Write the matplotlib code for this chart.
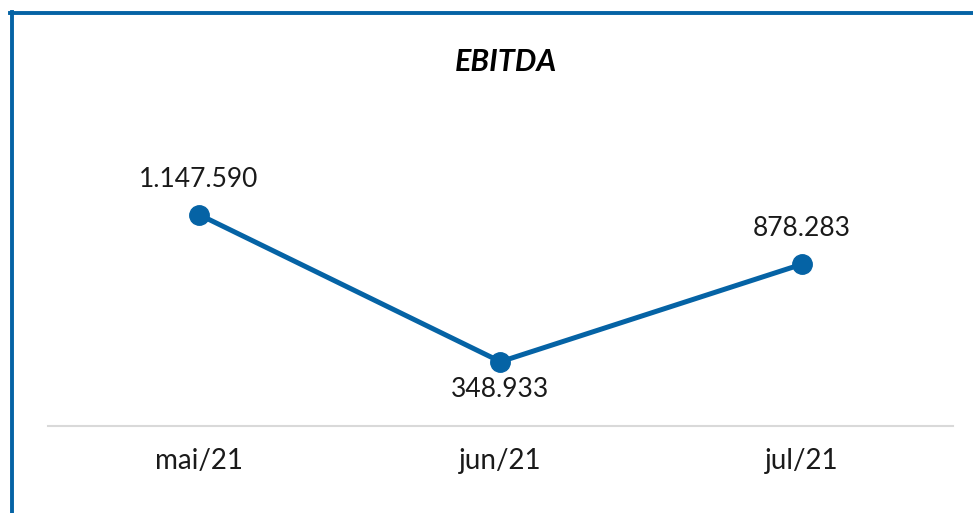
import matplotlib
matplotlib.use("Agg")
import matplotlib.pyplot as plt
from matplotlib.lines import Line2D

# data
months = ["mai/21", "jun/21", "jul/21"]
ebitda = [1147590, 348933, 878283]
labels = ["1.147.590", "348.933", "878.283"]
label_pos = ["above", "below", "above"]

blue = "#0563A5"
plt.rcParams["font.family"] = ["Lato", "DejaVu Sans"]

W, H = 973, 513
fig = plt.figure(figsize=(W / 100, H / 100), dpi=100)
ax = fig.add_axes([48 / W, 87 / H, 905 / W, 258 / H])

x = range(len(months))
ax.plot(x, ebitda, color=blue, lw=3.6, marker="o", ms=14, solid_capstyle="round")

for i, (v, lab, pos) in enumerate(zip(ebitda, labels, label_pos)):
    if pos == "above":
        ax.annotate(lab, (i, v), xytext=(0, 23), textcoords="offset pixels",
                    ha="center", va="bottom", fontsize=19, color="#1a1a1a")
    else:
        ax.annotate(lab, (i, v), xytext=(0, -15), textcoords="offset pixels",
                    ha="center", va="top", fontsize=19, color="#1a1a1a")

ax.set_xlim(-0.5, 2.5)
ax.set_ylim(0, 1400000)
ax.set_xticks(list(x))
ax.set_xticklabels(months, fontsize=20, color="#1a1a1a")
ax.tick_params(axis="x", length=0, pad=16)
ax.set_yticks([])
for s in ["top", "right", "left"]:
    ax.spines[s].set_visible(False)
ax.spines["bottom"].set_color("#D9D9D9")
ax.spines["bottom"].set_linewidth(1.5)

fig.text(506 / W, 1 - 62 / H, "EBITDA", ha="center", va="center",
         fontsize=22, fontweight="bold", fontstyle="italic", color="black")

# chart frame: only top and left edges visible
fig.add_artist(Line2D([10 / W, 1], [1 - 13 / H, 1 - 13 / H], color=blue, lw=2.8,
                      transform=fig.transFigure))
fig.add_artist(Line2D([12 / W, 12 / W], [0, 1 - 12 / H], color=blue, lw=2.8,
                      transform=fig.transFigure))

fig.savefig("out.png", dpi=100)
